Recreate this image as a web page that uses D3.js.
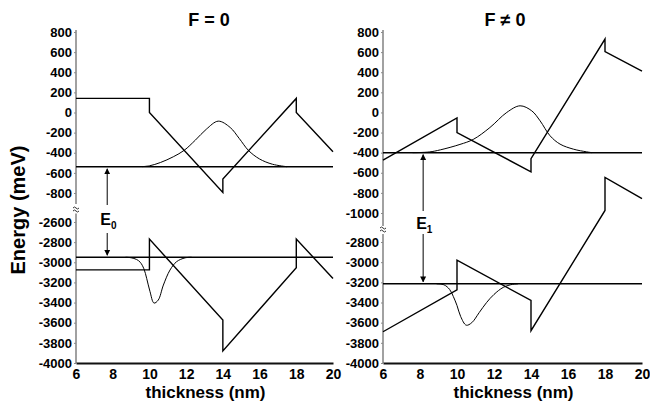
<!DOCTYPE html>
<html>
<head>
<meta charset="utf-8">
<script src="https://cdn.jsdelivr.net/npm/d3@7"></script>
<style>
  body { margin: 0; background: #fff; }
  svg { display: block; font-family: "Liberation Sans", Arial, sans-serif; font-weight: bold; }
</style>
</head>
<body>
<div id="chart"></div>
<script>
(function(d3) {
    'use strict'

    var width = 650;
    var height = 405;

    // tick labels
    var xTicks = [6, 8, 10, 12, 14, 16, 18, 20];
    var leftTopTicks = [800, 600, 400, 200, 0, -200, -400, -600, -800];
    var leftBotTicks = [-2600, -2800, -3000, -3200, -3400, -3600, -3800, -4000];
    var rightTopTicks = [800, 600, 400, 200, 0, -200, -400, -600, -800, -1000];
    var rightBotTicks = [-2800, -3000, -3200, -3400, -3600, -3800, -4000];

    // F = 0 : band edges [thickness nm, meV]
    var condF0 = [[6, 140], [10, 140], [10, 0], [14, -795], [14, -660], [18, 140], [18, 0], [20, -390]];
    var valF0 = [[6, -3075], [10, -3075], [10, -2770], [14, -3573], [14, -3880], [18, -3055], [18, -2770], [20, -3160]];
    var levelE0 = -540;
    var levelH0 = -2950;
    var psiE0 = [[9.6, -538], [10.0, -530], [10.6, -497], [11.3, -440], [11.9, -375], [12.5, -275], [13.1, -166],
        [13.75, -86], [14.4, -149], [14.9, -260], [15.4, -378], [16.0, -462], [16.7, -514], [17.5, -539]];
    var psiH0 = [[8.7, -2950], [9.0, -2955], [9.3, -2972], [9.5, -3000], [9.7, -3065], [9.85, -3160], [10.03, -3290],
        [10.25, -3405], [10.48, -3375], [10.76, -3226], [11.12, -3077], [11.48, -2994], [11.94, -2956], [12.3, -2950]];

    // F != 0
    var condF1 = [[6, -475], [10, -55], [10, -200], [14, -590], [14, -460], [18, 730], [18, 605], [20, 410]];
    var valF1 = [[6, -3690], [10, -3275], [10, -2980], [14, -3380], [14, -3680], [18, -2487], [18, -2160], [20, -2370]];
    var levelE1 = -400;
    var levelH1 = -3215;
    var psiE1 = [[7.6, -400], [8.5, -393], [9.1, -372], [10.16, -318], [10.88, -268], [11.78, -150], [12.69, 0],
        [13.41, 66], [14.04, 16], [14.49, -83], [15.03, -232], [15.57, -315], [16.29, -365], [17.01, -392], [17.3, -400]];
    var psiH1 = [[8.9, -3215], [9.3, -3225], [9.6, -3270], [9.8, -3340], [10.0, -3430], [10.2, -3540], [10.5, -3625],
        [10.8, -3600], [11.2, -3500], [11.6, -3400], [12.0, -3320], [12.5, -3250], [13.0, -3220], [13.3, -3215]];

    var svg = d3.select('#chart')
        .append('svg')
        .attr('width', width)
        .attr('height', height);

    var panels = [
        {
            title: 'F = 0', titleX: 209, label: '0',
            x: d3.scaleLinear().domain([6, 20]).range([76, 333]),
            yTop: d3.scaleLinear().domain([800, -800]).range([32, 193]),
            yBot: d3.scaleLinear().domain([-2600, -4000]).range([222, 363]),
            topTicks: leftTopTicks, botTicks: leftBotTicks,
            topEnd: -910, botStart: -2515, breakY: 209,
            cond: condF0, val: valF0, eLevel: levelE0, hLevel: levelH0,
            psiE: psiE0, psiH: psiH0, arrowX: 7.7,
            arrowTopEnd: 205, arrowBotStart: 233
        },
        {
            title: 'F \u2260 0', titleX: 505, label: '1',
            x: d3.scaleLinear().domain([6, 20]).range([383, 642]),
            yTop: d3.scaleLinear().domain([800, -1000]).range([32, 213]),
            yBot: d3.scaleLinear().domain([-2800, -4000]).range([242, 363]),
            topTicks: rightTopTicks, botTicks: rightBotTicks,
            topEnd: -1130, botStart: -2720, breakY: 229,
            cond: condF1, val: valF1, eLevel: levelE1, hLevel: levelH1,
            psiE: psiE1, psiH: psiH1, arrowX: 8.17,
            arrowTopEnd: 211, arrowBotStart: 234
        }
    ];

    // plain hyphen minus, no thousands separator
    var fmt = function(d) { return String(d); };

    // arrow head
    svg.append('defs').append('marker')
        .attr('id', 'head')
        .attr('viewBox', '0 0 10 10')
        .attr('refX', 9).attr('refY', 5)
        .attr('markerWidth', 6).attr('markerHeight', 7)
        .attr('markerUnits', 'userSpaceOnUse')
        .attr('orient', 'auto')
        .append('path')
        .attr('d', 'M0,0 L10,5 L0,10 Z')
        .attr('fill', '#000');

    panels.forEach(function(p) {
        var g = svg.append('g');
        var x = p.x;

        var lineTop = d3.line().x(function(d) { return x(d[0]); }).y(function(d) { return p.yTop(d[1]); });
        var lineBot = d3.line().x(function(d) { return x(d[0]); }).y(function(d) { return p.yBot(d[1]); });
        var smoothTop = d3.line().curve(d3.curveCatmullRom.alpha(0.5))
            .x(function(d) { return x(d[0]); }).y(function(d) { return p.yTop(d[1]); });
        var smoothBot = d3.line().curve(d3.curveCatmullRom.alpha(0.5))
            .x(function(d) { return x(d[0]); }).y(function(d) { return p.yBot(d[1]); });

        // y axes (two pieces with a break)
        var ax0 = x.range()[0];
        g.append('line')
            .attr('x1', ax0).attr('x2', ax0)
            .attr('y1', p.yTop(800) - 2).attr('y2', p.yTop(p.topEnd))
            .attr('stroke', '#8a8a8a').attr('stroke-width', 1.6);
        g.append('line')
            .attr('x1', ax0).attr('x2', ax0)
            .attr('y1', p.yBot(p.botStart)).attr('y2', p.yBot(-4000))
            .attr('stroke', '#8a8a8a').attr('stroke-width', 1.6);
        g.append('path')
            .attr('d', 'M' + (ax0 - 3) + ',' + (p.breakY - 1) + ' q1.5,-2 3,0 t3,0' +
                ' M' + (ax0 - 3) + ',' + (p.breakY + 2) + ' q1.5,-2 3,0 t3,0')
            .attr('fill', 'none').attr('stroke', '#333').attr('stroke-width', 1);

        [[p.yTop, p.topTicks], [p.yBot, p.botTicks]].forEach(function(a) {
            var ax = g.append('g')
                .attr('transform', 'translate(' + ax0 + ',0)')
                .call(d3.axisLeft(a[0]).tickValues(a[1]).tickFormat(fmt).tickSize(2).tickPadding(2));
            ax.select('.domain').remove();
            ax.selectAll('.tick line').attr('stroke', '#8a8a8a');
            ax.selectAll('.tick text')
                .attr('font-size', 13).attr('font-weight', 'bold')
                .attr('font-family', '"Liberation Sans", Arial, sans-serif').attr('fill', '#000');
        });

        // x axis
        var xa = g.append('g')
            .attr('transform', 'translate(0,' + p.yBot(-4000) + ')')
            .call(d3.axisBottom(x).tickValues(xTicks).tickFormat(fmt).tickSize(0).tickPadding(6));
        xa.select('.domain').attr('stroke', '#111').attr('stroke-width', 1.8);
        xa.selectAll('.tick text')
            .attr('font-size', 14).attr('font-weight', 'bold')
            .attr('font-family', '"Liberation Sans", Arial, sans-serif').attr('fill', '#000');

        // levels
        g.append('line')
            .attr('x1', x(6)).attr('x2', x(20))
            .attr('y1', p.yTop(p.eLevel)).attr('y2', p.yTop(p.eLevel))
            .attr('stroke', '#000').attr('stroke-width', 1.5);
        g.append('line')
            .attr('x1', x(6)).attr('x2', x(20))
            .attr('y1', p.yBot(p.hLevel)).attr('y2', p.yBot(p.hLevel))
            .attr('stroke', '#000').attr('stroke-width', 1.5);

        // band edges
        g.append('path').attr('d', lineTop(p.cond))
            .attr('fill', 'none').attr('stroke', '#000').attr('stroke-width', 1.4);
        g.append('path').attr('d', lineBot(p.val))
            .attr('fill', 'none').attr('stroke', '#000').attr('stroke-width', 1.4);

        // wavefunctions
        g.append('path').attr('d', smoothTop(p.psiE))
            .attr('fill', 'none').attr('stroke', '#000').attr('stroke-width', 1);
        g.append('path').attr('d', smoothBot(p.psiH))
            .attr('fill', 'none').attr('stroke', '#000').attr('stroke-width', 1);

        // transition energy arrow
        var axX = x(p.arrowX);
        g.append('line')
            .attr('x1', axX).attr('x2', axX)
            .attr('y1', p.arrowTopEnd).attr('y2', p.yTop(p.eLevel) + 2)
            .attr('stroke', '#000').attr('stroke-width', 1)
            .attr('marker-end', 'url(#head)');
        g.append('line')
            .attr('x1', axX).attr('x2', axX)
            .attr('y1', p.arrowBotStart).attr('y2', p.yBot(p.hLevel) - 2)
            .attr('stroke', '#000').attr('stroke-width', 1)
            .attr('marker-end', 'url(#head)');
        var lab = g.append('text')
            .attr('x', axX - 7).attr('y', (p.arrowTopEnd + p.arrowBotStart) / 2 + 6)
            .attr('font-size', 16);
        lab.append('tspan').text('E');
        lab.append('tspan').attr('dy', 4).attr('font-size', 10).text(p.label);

        // titles
        g.append('text')
            .attr('x', p.titleX).attr('y', 26)
            .attr('text-anchor', 'middle')
            .attr('font-size', 18)
            .text(p.title);
        g.append('text')
            .attr('x', (x(6) + x(20)) / 2 + 1).attr('y', 398)
            .attr('text-anchor', 'middle')
            .attr('font-size', 17)
            .text('thickness (nm)');
    });

    svg.append('text')
        .attr('transform', 'translate(25,210) rotate(-90)')
        .attr('text-anchor', 'middle')
        .attr('font-size', 20)
        .text('Energy (meV)');

})(window.d3);
</script>
</body>
</html>
